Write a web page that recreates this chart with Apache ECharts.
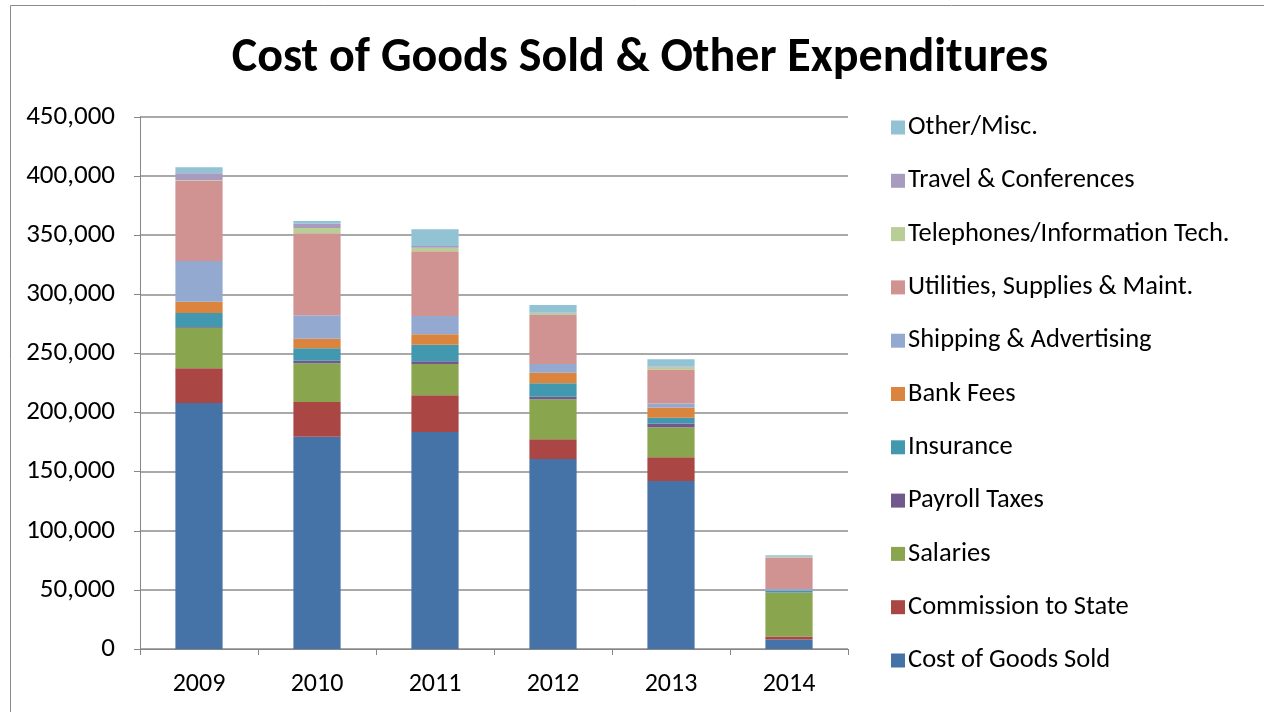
<!DOCTYPE html>
<html><head><meta charset="utf-8">
<script src="https://cdn.jsdelivr.net/npm/echarts@6/dist/echarts.min.js"></script>
<style>html,body{margin:0;padding:0;background:#fff}#c{width:1264px;height:712px}</style>
</head><body><div id="c"></div>
<script>
var years = ['2009','2010','2011','2012','2013','2014'];
var seriesNames = ['Cost of Goods Sold','Commission to State','Salaries','Payroll Taxes','Insurance','Bank Fees','Shipping & Advertising','Utilities, Supplies & Maint.','Telephones/Information Tech.','Travel & Conferences','Other/Misc.'];
var costOfGoods   = [208000, 179600, 183600, 160700, 142100, 8000];
var commission    = [29400, 29300, 31000, 16700, 20100, 2500];
var salaries      = [34400, 32800, 26500, 33800, 25400, 37000];
var payrollTaxes  = [500, 2200, 2300, 2200, 3100, 300];
var insurance     = [11900, 10500, 14000, 11300, 5000, 1200];
var bankFees      = [9500, 8100, 8800, 9000, 8500, 300];
var shipping      = [34400, 19800, 15500, 7400, 3400, 1500];
var utilities     = [68000, 69400, 54700, 41400, 28800, 26500];
var telephones    = [500, 4500, 3100, 1500, 2000, 500];
var travel        = [5900, 3600, 1400, 500, 500, 200];
var other         = [5100, 2300, 14100, 6400, 6200, 1300];
var yTicks = [0, 450000, 50000];

var allData = [costOfGoods, commission, salaries, payrollTaxes, insurance, bankFees, shipping, utilities, telephones, travel, other];
var colors = ['#4572A7','#AA4643','#89A54E','#71588F','#4198AF','#DB843D','#93A9CF','#D19392','#B9CD96','#A99BBD','#91C3D5'];
var font = 'Carlito, Lato';

var chart = echarts.init(document.getElementById('c'));
chart.setOption({
  animation: false,
  color: colors,
  title: {text: 'Cost of Goods Sold & Other Expenditures', left: 635, textAlign: 'center', top: 30,
    textStyle: {fontFamily: font, fontSize: 48, fontWeight: 'bold', color: '#000'}},
  graphic: [{type: 'rect', shape: {x: 10.5, y: 5.5, width: 1300, height: 800}, style: {fill: 'none', stroke: '#8a8a8a', lineWidth: 1}, silent: true}],
  legend: {orient: 'vertical', left: 886, top: 109, itemWidth: 14, itemHeight: 14, itemGap: 26.3,
    data: seriesNames.slice().reverse(), icon: 'rect',
    textStyle: {fontFamily: font, fontSize: 26.5, color: '#000', lineHeight: 26, padding: [0,0,0,-2]}},
  grid: {left: 140, right: 416, top: 117, bottom: 63},
  xAxis: {type: 'category', data: years,
    axisLine: {lineStyle: {color: '#868686', width: 1}},
    axisTick: {show: true, length: 6, lineStyle: {color: '#868686'}},
    axisLabel: {fontFamily: font, fontSize: 26, color: '#000', margin: 22}},
  yAxis: {type: 'value', min: yTicks[0], max: yTicks[1], interval: yTicks[2],
    axisLine: {show: true, lineStyle: {color: '#868686'}},
    axisTick: {show: true, length: 6, lineStyle: {color: '#868686'}},
    splitLine: {lineStyle: {color: '#8c8c8c', width: 1.5}},
    axisLabel: {fontFamily: font, fontSize: 27, color: '#000', margin: 25,
      formatter: function(v){ return v.toLocaleString('en-US'); }}},
  series: allData.map(function(d, i){
    return {name: seriesNames[i], type: 'bar', stack: 'all', data: d, barWidth: '40%',
      itemStyle: {color: colors[i]}};
  })
});
</script></body></html>
